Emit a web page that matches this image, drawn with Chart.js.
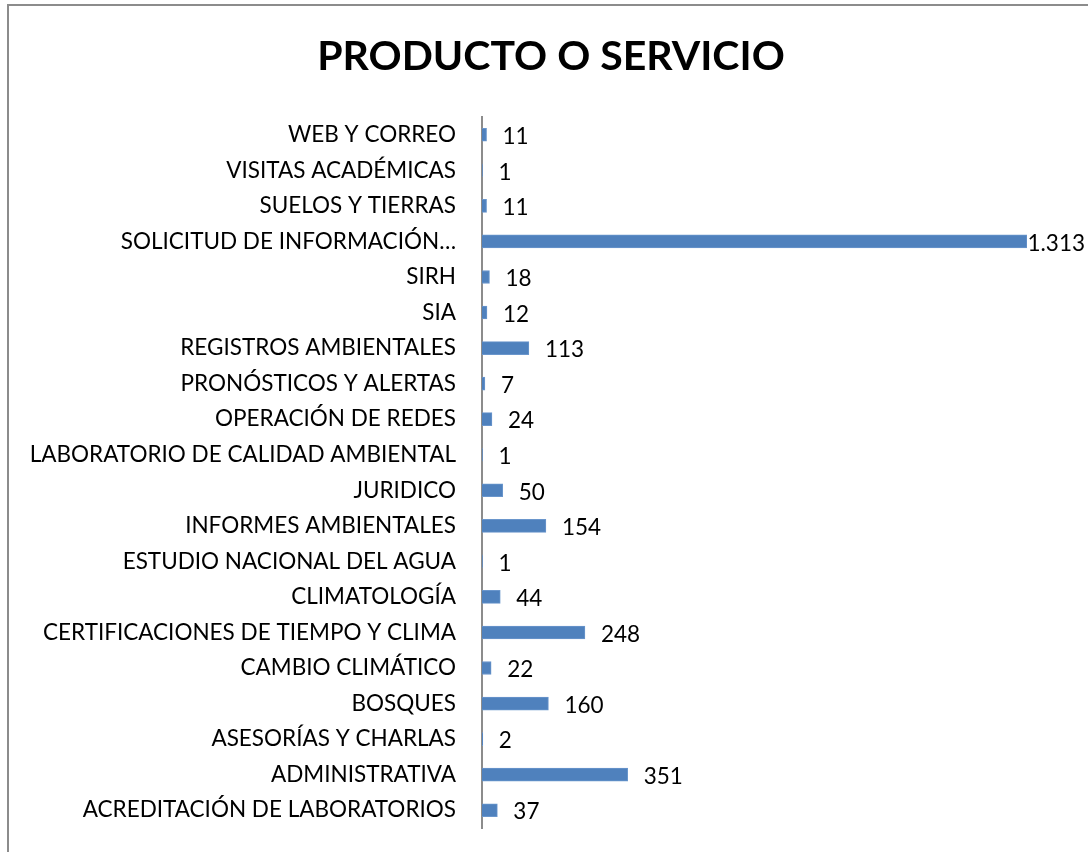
<!DOCTYPE html>
<html><head><meta charset="utf-8">
<script src="https://cdn.jsdelivr.net/npm/chart.js@4"></script>
<style>
html,body{margin:0;padding:0;background:#fff;width:1088px;height:852px;overflow:hidden}
#frame{position:absolute;left:7px;top:4px;width:1200px;height:1000px;border:2px solid #8c8c8c;box-sizing:border-box}
#c{position:absolute;left:0;top:0}
</style></head><body>
<div id="frame"></div>
<canvas id="c" width="1088" height="852"></canvas>
<script>
const title = "PRODUCTO O SERVICIO";
const categories = ["WEB Y CORREO","VISITAS ACADÉMICAS","SUELOS Y TIERRAS","SOLICITUD DE INFORMACIÓN…","SIRH","SIA","REGISTROS AMBIENTALES","PRONÓSTICOS Y ALERTAS","OPERACIÓN DE REDES","LABORATORIO DE CALIDAD AMBIENTAL","JURIDICO","INFORMES AMBIENTALES","ESTUDIO NACIONAL DEL AGUA","CLIMATOLOGÍA","CERTIFICACIONES DE TIEMPO Y CLIMA","CAMBIO CLIMÁTICO","BOSQUES","ASESORÍAS Y CHARLAS","ADMINISTRATIVA","ACREDITACIÓN DE LABORATORIOS"];
const values = [11,1,11,1313,18,12,113,7,24,1,50,154,1,44,248,22,160,2,351,37];

const FONT = "Lato, 'Open Sans', sans-serif";
function fmt(v){return v.toString().replace(/\B(?=(\d{3})+(?!\d))/g,'.');}

const titlePlugin = {
  id:'titleText',
  afterDraw(chart){
    const ctx = chart.ctx;
    ctx.save();
    ctx.font = "bold 41px " + FONT;
    ctx.fillStyle = "#000";
    ctx.textAlign = "center";
    ctx.textBaseline = "middle";
    ctx.fillText(title, 551, 57);
    ctx.restore();
  }
};

const labelPlugin = {
  id:'valLabels',
  afterDatasetsDraw(chart){
    const ctx = chart.ctx;
    const meta = chart.getDatasetMeta(0);
    ctx.save();
    ctx.font = "22.5px " + FONT;
    ctx.fillStyle = "#000";
    ctx.textBaseline = "middle";
    ctx.textAlign = "left";
    meta.data.forEach((el,i)=>{
      const t = fmt(values[i]);
      const w = ctx.measureText(t).width;
      let x = el.x + 16;
      if (x + w > 1085) x = 1085 - w;
      ctx.fillText(t, x, el.y + 2);
    });
    ctx.restore();
  }
};

new Chart(document.getElementById('c'), {
  type:'bar',
  data:{labels:categories, datasets:[{data:values, backgroundColor:'#4F81BD', borderColor:'#6a96cc', borderWidth:1, barThickness:13}]},
  options:{
    indexAxis:'y', responsive:false, animation:false,
    layout:{padding:{left:0,right:61,top:117,bottom:24}},
    plugins:{ legend:{display:false}, tooltip:{enabled:false}, title:{display:false} },
    scales:{
      x:{display:false, min:0, max:1313},
      y:{
        afterFit(s){ s.width = 482; s.paddingTop = 0; s.paddingBottom = 0; },
        grid:{display:false, drawTicks:false},
        border:{display:true, color:'#8c8c8c', width:2},
        ticks:{color:'#000', font:{family:FONT, size:22.5}, padding:26, autoSkip:false}
      }
    }
  },
  plugins:[labelPlugin, titlePlugin]
});
</script></body></html>
